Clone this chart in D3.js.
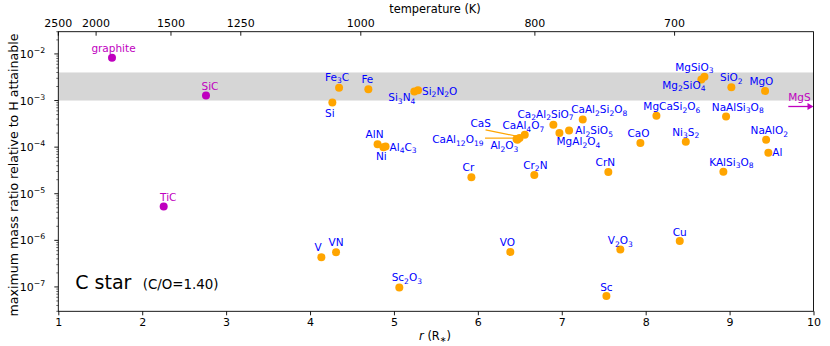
<!DOCTYPE html>
<html>
<head>
<meta charset="utf-8">
<script src="https://cdn.jsdelivr.net/npm/d3@7"></script>
<style>
body { margin: 0; background: #fff; }
svg { font-family: "DejaVu Sans", sans-serif; }
</style>
</head>
<body>
<svg id="chart" width="830" height="346"></svg>
<script>
// carbon-rich condensates (magenta)
var carbonNames = ['graphite', 'SiC', 'TiC'];
var carbonR = [1.64, 2.76, 2.256];
var carbonY = [8.3e-3, 1.28e-3, 5.3e-6];

// other condensates (orange points, blue labels)
var names = ['Si', 'Fe3C', 'Fe', 'AlN', 'Ni', 'Al4C3', 'Si3N4', 'Si2N2O', 'Cr',
    'CaAl12O19', 'Al2O3', 'CaS', 'CaAl4O7', 'Ca2Al2SiO7', 'MgAl2O4', 'Al2SiO5',
    'CaAl2Si2O8', 'Cr2N', 'CrN', 'MgSiO3', 'Mg2SiO4', 'SiO2', 'MgO', 'MgCaSi2O6',
    'NaAlSi3O8', 'CaO', 'Ni3S2', 'NaAlO2', 'Al', 'KAlSi3O8', 'V', 'VN', 'Sc2O3',
    'VO', 'V2O3', 'Cu', 'Sc'];
var rValues = [4.266, 4.346, 4.695, 4.805, 4.874, 4.90, 5.243, 5.287, 5.923,
    6.461, 6.471, 6.497, 6.559, 6.90, 6.972, 7.087,
    7.25, 6.673, 7.555, 8.70, 8.664, 9.021, 9.423, 8.128,
    8.958, 7.937, 8.478, 9.435, 9.462, 8.926, 4.135, 4.31, 5.064,
    6.387, 7.698, 8.406, 7.532];
var yValues = [9.06e-4, 1.87e-3, 1.75e-3, 1.15e-4, 9.9e-5, 1.03e-4, 1.56e-3, 1.66e-3, 2.26e-5,
    1.50e-4, 1.44e-4, 1.57e-4, 1.85e-4, 3.02e-4, 2.0e-4, 2.28e-4,
    3.92e-4, 2.51e-5, 2.92e-5, 3.22e-3, 2.82e-3, 1.93e-3, 1.61e-3, 4.70e-4,
    4.54e-4, 1.22e-4, 1.30e-4, 1.44e-4, 7.6e-5, 2.97e-5, 4.35e-7, 5.56e-7, 9.75e-8,
    5.65e-7, 6.35e-7, 9.7e-7, 6.35e-8];

// condensing beyond the plotted range
var offscaleName = 'MgS';
var offscaleY = 7.45e-4;

var bandRange = [1e-3, 4e-3];
var rTicks = [1, 2, 3, 4, 5, 6, 7, 8, 9, 10];
var yTicks = [1e-7, 1e-6, 1e-5, 1e-4, 1e-3, 1e-2];
var tempTicks = [2500, 2000, 1500, 1250, 1000, 800, 700];

// label placement relative to the point: dx, dy (baseline), anchor
var labelPlace = {
    graphite: [1.5, -6], SiC: [4, -6], TiC: [4.6, -5.6],
    Fe3C: [-2, -7], Fe: [-1, -6], Si: [-2.5, 14], AlN: [-3, -6.7], Ni: [-2, 12.5],
    Al4C3: [4, 4.3, 'start'], Si3N4: [1, 9.7, 'end'], Si2N2O: [4, 4.3, 'start'],
    Cr: [-3, -6.3], CaS: [-38.8, -10.8], CaAl12O19: [-58.7, 4.2], Al2O3: [-13, 9.7],
    CaAl4O7: [-1.4, -5.3], Ca2Al2SiO7: [-7.8, -7], MgAl2O4: [19, 12.3],
    Al2SiO5: [6.3, 4, 'start'], CaAl2Si2O8: [16.5, -6.3], Cr2N: [1, -6.4], CrN: [-3, -6],
    MgSiO3: [-10, -6.3], Mg2SiO4: [-17.5, 9.3], MgO: [-3.7, -6],
    MgCaSi2O6: [15.4, -5.6], NaAlSi3O8: [11.7, -6], CaO: [-2, -5.7],
    NaAlO2: [3.2, -5.6], Al: [4, 3.4, 'start'], KAlSi3O8: [8, -6], V: [-3.3, -6],
    Sc2O3: [7.5, -6.3], VO: [-3, -5.7], V2O3: [0, -5.3], Cu: [0, -5.4], Sc: [0, -5.3]
};
// leader lines: from (dx1,dy1) to (dx2,dy2) relative to the point
var leaders = {
    CaS: [-34, -8.2, -1, -1.5],
    CaAl12O19: [-31.5, -0.8, 0, -0.8]
};

var svg = d3.select('#chart');
var plotLeft = 58.3, plotRight = 813.5, plotTop = 31.7, plotBottom = 311.3;
var x = d3.scaleLinear().domain([1, 10]).range([plotLeft, plotRight]);
var y = d3.scaleLog().domain([3e-8, 3e-2]).range([plotBottom, plotTop]);

// temperature as function of radius, T = 2500 r^-0.6
function rOfT(T) { return Math.pow(T / 2500, -1 / 0.6); }

var orange = '#ffa500', blue = '#0000ff', magenta = '#bf00bf';

// shaded band
svg.append('rect')
    .attr('x', plotLeft)
    .attr('y', y(bandRange[1]))
    .attr('width', plotRight - plotLeft)
    .attr('height', y(bandRange[0]) - y(bandRange[1]))
    .attr('fill', '#d6d6d6');

// write a formula with its digits as subscripts
function formula(sel, txt, size) {
    var parts = txt.match(/[0-9]+|[^0-9]+/g);
    var sub = false;
    parts.forEach(function(p) {
        var isNum = /^[0-9]+$/.test(p);
        var t = sel.append('tspan').text(p);
        if (isNum && !sub) { t.attr('dy', size * 0.24).attr('font-size', size * 0.72); sub = true; }
        else if (isNum) { t.attr('font-size', size * 0.72); }
        else if (sub) { t.attr('dy', -size * 0.24); sub = false; }
    });
}

function label(name, px, py, color) {
    var pl = labelPlace[name] || [0, -6];
    var t = svg.append('text')
        .attr('x', px + pl[0])
        .attr('y', py + pl[1])
        .attr('text-anchor', pl[2] || 'middle')
        .attr('font-size', 10.5)
        .attr('fill', color);
    if (name === 'graphite') t.text(name);
    else formula(t, name, 10.5);
}

// leader lines
Object.keys(leaders).forEach(function(n) {
    var i = names.indexOf(n);
    var px = x(rValues[i]), py = y(yValues[i]), l = leaders[n];
    svg.append('line')
        .attr('x1', px + l[0]).attr('y1', py + l[1])
        .attr('x2', px + l[2]).attr('y2', py + l[3])
        .attr('stroke', orange).attr('stroke-width', 1.2);
});

names.forEach(function(n, i) {
    svg.append('circle')
        .attr('cx', x(rValues[i]))
        .attr('cy', y(yValues[i]))
        .attr('r', 4)
        .attr('fill', orange);
});
names.forEach(function(n, i) {
    label(n, x(rValues[i]), y(yValues[i]), blue);
});

carbonNames.forEach(function(n, i) {
    svg.append('circle')
        .attr('cx', x(carbonR[i]))
        .attr('cy', y(carbonY[i]))
        .attr('r', 4)
        .attr('fill', magenta);
    label(n, x(carbonR[i]), y(carbonY[i]), magenta);
});

// off-scale arrow
var ay = y(offscaleY);
svg.append('line')
    .attr('x1', 788.3).attr('y1', ay)
    .attr('x2', plotRight - 5).attr('y2', ay)
    .attr('stroke', magenta).attr('stroke-width', 1.3);
svg.append('path')
    .attr('d', 'M' + (plotRight - 6) + ',' + (ay - 3.5) + 'L' + plotRight + ',' + ay + 'L' + (plotRight - 6) + ',' + (ay + 3.5) + 'Z')
    .attr('fill', magenta);
svg.append('text')
    .attr('x', 799.5).attr('y', ay - 5.3)
    .attr('text-anchor', 'middle')
    .attr('font-size', 10.5)
    .attr('fill', magenta)
    .text(offscaleName);

// axes frame
svg.append('rect')
    .attr('x', plotLeft).attr('y', plotTop)
    .attr('width', plotRight - plotLeft).attr('height', plotBottom - plotTop)
    .attr('fill', 'none').attr('stroke', '#000').attr('stroke-width', 0.9);

// bottom axis
var gx = svg.append('g').attr('transform', 'translate(0,' + plotBottom + ')')
    .call(d3.axisBottom(x).tickValues(rTicks).tickSize(4).tickPadding(3).tickFormat(d3.format('d')));
gx.select('.domain').remove();
gx.selectAll('text').attr('font-size', 11).attr('font-family', 'DejaVu Sans').attr('fill', '#000');
gx.selectAll('line').attr('stroke-width', 0.9);

// top temperature axis, ticks inward
var gt = svg.append('g').attr('transform', 'translate(0,' + plotTop + ')');
tempTicks.forEach(function(T) {
    var px = x(rOfT(T));
    gt.append('line').attr('x1', px).attr('x2', px).attr('y1', 0).attr('y2', 4)
        .attr('stroke', '#000').attr('stroke-width', 0.9);
    gt.append('text').attr('x', px).attr('y', -4.4)
        .attr('text-anchor', 'middle').attr('font-size', 11).text(T);
});

// left log axis
var gy = svg.append('g').attr('transform', 'translate(' + plotLeft + ',0)');
var minor = [];
for (var e = -8; e <= -2; e++) {
    for (var m = 2; m <= 9; m++) {
        var v = m * Math.pow(10, e);
        if (v >= 3e-8 && v <= 3e-2) minor.push(v);
    }
}
minor.forEach(function(v) {
    gy.append('line').attr('x1', -2).attr('x2', 0).attr('y1', y(v)).attr('y2', y(v))
        .attr('stroke', '#000').attr('stroke-width', 0.6);
});
yTicks.forEach(function(v) {
    var py = y(v);
    gy.append('line').attr('x1', -4).attr('x2', 0).attr('y1', py).attr('y2', py)
        .attr('stroke', '#000').attr('stroke-width', 0.9);
    var t = gy.append('text').attr('x', -13).attr('y', py + 4)
        .attr('text-anchor', 'end').attr('font-size', 11);
    t.append('tspan').text('10');
    t.append('tspan').attr('dy', -5).attr('font-size', 7.8)
        .text('\u2212' + Math.round(-Math.log10(v)));
});

// axis titles
var xl = svg.append('text').attr('x', 435).attr('y', 339.5)
    .attr('text-anchor', 'middle').attr('font-size', 11.4);
xl.append('tspan').attr('font-style', 'italic').text('r');
xl.append('tspan').text(' (R');
xl.append('tspan').attr('dy', 2.5).attr('font-size', 8).text('\u2217');
xl.append('tspan').attr('dy', -2.5).text(')');

svg.append('text').attr('x', 435).attr('y', 12.5)
    .attr('text-anchor', 'middle').attr('font-size', 11.4)
    .text('temperature (K)');

svg.append('text')
    .attr('transform', 'translate(17.5,175) rotate(-90)')
    .attr('text-anchor', 'middle').attr('font-size', 12.6)
    .text('maximum mass ratio relative to H attainable');

// star type note
svg.append('text').attr('x', 75.3).attr('y', 289)
    .attr('font-size', 19).text('C star');
svg.append('text').attr('x', 142.7).attr('y', 289)
    .attr('font-size', 13.4).text('(C/O=1.40)');
</script>
</body>
</html>
